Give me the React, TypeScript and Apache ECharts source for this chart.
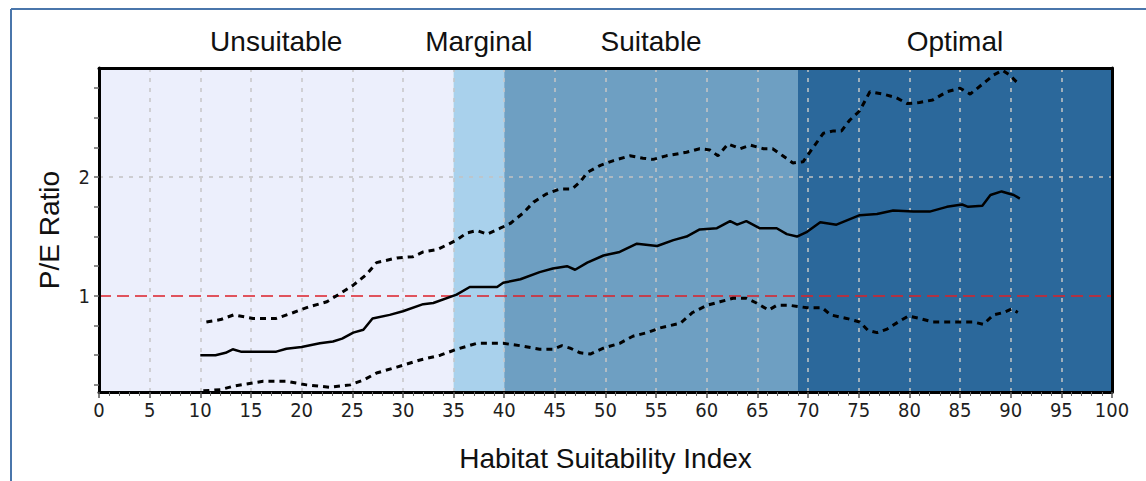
import React, { useEffect, useRef } from "react";
import * as echarts from "echarts";

const meanX = [10, 11.5, 12.5, 13.2, 14, 17.5, 18.5, 20, 21.8, 23.1, 24, 25.1, 26.1, 27, 28.7, 30, 32, 33, 35.3, 36.6, 39.3, 39.9, 41.6, 43.5, 44.8, 46.2, 47, 48.2, 49.8, 51.4, 53.1, 55.1, 56.7, 58, 59.3, 61, 62.3, 63, 63.9, 65.2, 66.9, 67.9, 68.9, 69.9, 71.2, 72.8, 75.1, 76.8, 78.4, 80.4, 82, 83.7, 85.2, 85.8, 87.2, 88, 89.1, 90.3, 90.9];
const meanY = [0.5, 0.5, 0.52, 0.55, 0.53, 0.53, 0.555, 0.57, 0.6, 0.616, 0.64, 0.69, 0.714, 0.81, 0.84, 0.87, 0.93, 0.94, 1.01, 1.075, 1.075, 1.11, 1.14, 1.2, 1.23, 1.25, 1.22, 1.28, 1.34, 1.37, 1.44, 1.42, 1.47, 1.5, 1.56, 1.57, 1.63, 1.6, 1.63, 1.57, 1.57, 1.52, 1.5, 1.54, 1.62, 1.6, 1.68, 1.69, 1.72, 1.71, 1.71, 1.75, 1.77, 1.75, 1.76, 1.85, 1.88, 1.85, 1.82];

const upperX = [10.6, 12, 13.3, 15.2, 17.5, 19.2, 20.8, 22.5, 23.8, 25.1, 26.4, 27.4, 29.4, 31, 32, 33.4, 35.3, 36.3, 37.3, 38.3, 39.6, 40.6, 41.9, 42.9, 44.2, 45.5, 46.7, 47.5, 48.2, 49.5, 50.8, 52.4, 53.7, 54.7, 56, 58, 59.3, 60.3, 61.1, 62.1, 63.3, 64.3, 65.6, 66.5, 67.5, 68.5, 69.5, 70.5, 71.5, 72.5, 73.3, 74.1, 75.1, 76.1, 77.4, 78.7, 79.8, 81, 82.3, 83.7, 85, 86, 87.3, 88.3, 89.2, 89.9, 90.6];
const upperY = [0.78, 0.8, 0.84, 0.81, 0.81, 0.86, 0.91, 0.95, 1.02, 1.09, 1.18, 1.28, 1.32, 1.33, 1.37, 1.39, 1.47, 1.53, 1.55, 1.52, 1.57, 1.61, 1.7, 1.79, 1.86, 1.9, 1.9, 1.96, 2.04, 2.1, 2.14, 2.18, 2.16, 2.15, 2.18, 2.21, 2.24, 2.23, 2.18, 2.28, 2.24, 2.27, 2.24, 2.24, 2.18, 2.12, 2.13, 2.25, 2.37, 2.39, 2.39, 2.48, 2.56, 2.72, 2.7, 2.67, 2.62, 2.63, 2.65, 2.72, 2.75, 2.7, 2.79, 2.86, 2.9, 2.86, 2.8];

const lowerX = [10.3, 12, 13.3, 16.2, 18.5, 20.5, 22.8, 24.8, 26.1, 27.4, 29.4, 31.7, 33.7, 35.3, 37.3, 38.6, 39.9, 41.6, 43.5, 44.8, 45.7, 46.5, 47.5, 48.5, 49.8, 51.4, 52.7, 54.1, 55.4, 56.4, 57.4, 58.6, 60, 61.3, 62.6, 63.9, 64.9, 66.1, 66.9, 68.2, 69.9, 71.4, 72.2, 73.8, 75.1, 75.9, 76.8, 77.8, 78.9, 79.9, 81, 82.3, 84, 86.3, 87.3, 88.3, 89.3, 90.1, 90.7];
const lowerY = [0.2, 0.21, 0.24, 0.28, 0.28, 0.25, 0.23, 0.25, 0.29, 0.35, 0.4, 0.46, 0.5, 0.55, 0.6, 0.6, 0.6, 0.58, 0.55, 0.55, 0.58, 0.56, 0.52, 0.51, 0.56, 0.6, 0.66, 0.69, 0.73, 0.75, 0.77, 0.86, 0.92, 0.95, 0.98, 0.98, 0.94, 0.88, 0.92, 0.92, 0.9, 0.9, 0.84, 0.81, 0.78, 0.71, 0.69, 0.72, 0.78, 0.83, 0.81, 0.78, 0.78, 0.78, 0.76, 0.84, 0.86, 0.89, 0.86];

const zoneNames = ["Unsuitable", "Marginal", "Suitable", "Optimal"];
const zoneStarts = [0, 35, 40, 69];
const zoneEnds = [35, 40, 69, 100];
const zoneColors = ["#eceffc", "#a9d1ec", "#6e9fc2", "#2b689b"];

const yTickValues = [0.25, 0.5, 0.75, 1, 1.25, 1.5, 1.75, 2, 2.25, 2.5, 2.75];
const yLabelValues = [1, 2];
const referenceLine = 1;
const gridLineY = 2;

const FONT = "Liberation Sans, Arial, Helvetica, sans-serif";
const TICK_FONT = "Liberation Sans Narrow, Arial Narrow, DejaVu Sans Condensed, Liberation Sans, Arial, sans-serif";

export default function App() {
  const ref = useRef<HTMLDivElement>(null);
  useEffect(() => {
    document.body.style.margin = "0";
    const chart = echarts.init(ref.current!, null, { renderer: "svg" });
    const pairs = (xs: number[], ys: number[]) => xs.map((x, i) => [x, ys[i]]);
    const option: any = {
      animation: false,
      textStyle: { fontFamily: FONT },
      graphic: [
        { type: "line", shape: { x1: 11, y1: 9, x2: 1146, y2: 9 }, style: { stroke: "#4a76ab", lineWidth: 2 } },
        { type: "line", shape: { x1: 11, y1: 9, x2: 11, y2: 481 }, style: { stroke: "#4a76ab", lineWidth: 2 } },
      ],
      grid: { left: 99, right: 34, top: 68, bottom: 89 },
      xAxis: [
        {
          type: "value",
          min: 0,
          max: 100,
          interval: 5,
          z: 1,
          name: "Habitat Suitability Index",
          nameLocation: "middle",
          nameGap: 52,
          nameTextStyle: { fontSize: 28, color: "#111", fontFamily: FONT },
          axisLine: { show: true, onZero: false, lineStyle: { color: "#000", width: 3 } },
          axisTick: { show: true, length: 6, lineStyle: { color: "#555", width: 1.5 } },
          minorTick: { show: true, splitNumber: 5, length: 4, lineStyle: { color: "#666", width: 1 } },
          axisLabel: { fontSize: 20, color: "#1e1e1e", margin: 8, fontFamily: TICK_FONT },
          splitLine: { show: true, lineStyle: { color: "#c6c6c6", type: [4, 6], width: 1.5 } },
        },
        {
          type: "value",
          min: 0,
          max: 100,
          position: "top",
          z: 1,
          axisLine: { show: true, onZero: false, lineStyle: { color: "#000", width: 3 } },
          axisTick: { show: false },
          axisLabel: { show: false },
          splitLine: { show: false },
        },
      ],
      yAxis: [
        {
          type: "value",
          min: 0.19,
          max: 2.92,
          z: 1,
          name: "P/E Ratio",
          nameLocation: "middle",
          nameGap: 36,
          nameTextStyle: { fontSize: 28, color: "#111", fontFamily: FONT },
          axisLine: { show: true, onZero: false, lineStyle: { color: "#000", width: 3 } },
          axisTick: { show: true, length: 5, customValues: yTickValues, lineStyle: { color: "#666", width: 1.5 } },
          axisLabel: { fontSize: 20, color: "#1e1e1e", margin: 9, customValues: yLabelValues, fontFamily: TICK_FONT },
          splitLine: { show: false },
        },
        {
          type: "value",
          min: 0.19,
          max: 2.92,
          position: "right",
          z: 1,
          axisLine: { show: true, onZero: false, lineStyle: { color: "#000", width: 3 } },
          axisTick: { show: false },
          axisLabel: { show: false },
          splitLine: { show: false },
        },
      ],
      series: [
        {
          type: "line",
          data: [],
          z: -5,
          markArea: {
            silent: true,
            z: -2,
            label: { show: true, position: "top", distance: 13, fontSize: 28, color: "#111", fontFamily: FONT },
            data: zoneNames.map((n, i) => [
              { name: n, xAxis: zoneStarts[i], itemStyle: { color: zoneColors[i] } },
              { xAxis: zoneEnds[i] },
            ]),
          },
        },
        {
          type: "line",
          data: [],
          z: 1,
          markLine: {
            silent: true,
            z: 1,
            symbol: "none",
            label: { show: false },
            data: [
              { yAxis: gridLineY, lineStyle: { color: "#c2c2c2", type: [4, 6], width: 1.5 } },
              { yAxis: referenceLine, lineStyle: { color: "#dc2028", type: [12, 6], width: 1.5 } },
            ],
          },
        },
        {
          type: "line",
          data: pairs(upperX, upperY),
          showSymbol: false,
          lineStyle: { color: "#000", width: 3, type: [6, 5] },
        },
        {
          type: "line",
          data: pairs(lowerX, lowerY),
          showSymbol: false,
          lineStyle: { color: "#000", width: 3, type: [6, 5] },
        },
        {
          type: "line",
          data: pairs(meanX, meanY),
          showSymbol: false,
          lineStyle: { color: "#000", width: 2.5 },
        },
      ],
    };
    chart.setOption(option);
    return () => chart.dispose();
  }, []);
  return <div ref={ref} style={{ width: 1146, height: 481 }} />;
}
